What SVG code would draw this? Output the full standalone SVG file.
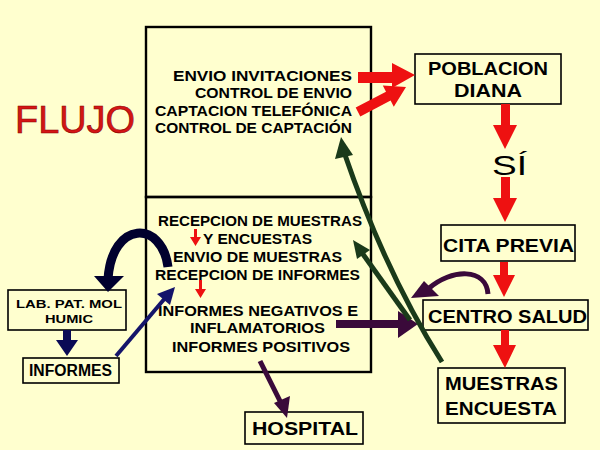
<svg xmlns="http://www.w3.org/2000/svg" width="600" height="450" viewBox="0 0 600 450">
<style>
.bx{fill:none;stroke:#000;stroke-width:1.6}
.big{fill:none;stroke:#000;stroke-width:2.4}
.t{font-family:"Liberation Sans",Arial,sans-serif;font-weight:bold;fill:#000}
.red{fill:#ee1111}
.navy{fill:#0a0a55}
.dnavy{fill:#00002e}
.pur{fill:#3a0a3a}
.grn{fill:#1a3a1a}
</style>
<rect width="600" height="450" fill="#ffffcf"/>
<text x="15" y="133" font-family="'Comic Sans MS','Liberation Sans',Arial,sans-serif" font-size="38" fill="#d41515" stroke="#8a0000" stroke-width="0.6" textLength="120" lengthAdjust="spacingAndGlyphs">FLUJO</text>

<g id="top-box">
<rect class="big" x="146" y="27" width="225" height="170"/>
<text class="t" font-size="15" text-anchor="end" x="352" y="81" textLength="179" lengthAdjust="spacingAndGlyphs">ENVIO INVITACIONES</text>
<text class="t" font-size="15" text-anchor="end" x="352" y="98" textLength="157" lengthAdjust="spacingAndGlyphs">CONTROL DE ENVIO</text>
<text class="t" font-size="15" text-anchor="end" x="352" y="116" textLength="197" lengthAdjust="spacingAndGlyphs">CAPTACION TELEFÓNICA</text>
<text class="t" font-size="15" text-anchor="end" x="352" y="133" textLength="197" lengthAdjust="spacingAndGlyphs">CONTROL DE CAPTACIÓN</text>
</g>

<g id="bottom-box">
<rect class="big" x="146" y="197" width="225" height="175"/>
<text class="t" font-size="14" x="158" y="226" textLength="204" lengthAdjust="spacingAndGlyphs">RECEPCION DE MUESTRAS</text>
<text class="t" font-size="14" x="203" y="244" textLength="109" lengthAdjust="spacingAndGlyphs">Y ENCUESTAS</text>
<text class="t" font-size="14" x="173" y="262" textLength="169" lengthAdjust="spacingAndGlyphs">ENVIO DE MUESTRAS</text>
<text class="t" font-size="14" x="155" y="280" textLength="205" lengthAdjust="spacingAndGlyphs">RECEPCION DE INFORMES</text>
<text class="t" font-size="14" x="158" y="316" textLength="200" lengthAdjust="spacingAndGlyphs">INFORMES NEGATIVOS E</text>
<text class="t" font-size="14" x="190" y="333" textLength="135" lengthAdjust="spacingAndGlyphs">INFLAMATORIOS</text>
<text class="t" font-size="14" x="172" y="352" textLength="178" lengthAdjust="spacingAndGlyphs">INFORMES POSITIVOS</text>
</g>

<g id="poblacion-diana">
<rect class="bx" x="415" y="54" width="146" height="50"/>
<text class="t" font-size="19" x="428" y="75" textLength="120" lengthAdjust="spacingAndGlyphs">POBLACION</text>
<text class="t" font-size="19" x="454" y="97" textLength="68" lengthAdjust="spacingAndGlyphs">DIANA</text>
</g>

<g id="si">
<text font-family="'Liberation Sans',Arial,sans-serif" font-size="28" x="492" y="175" textLength="35" lengthAdjust="spacingAndGlyphs">SÍ</text>
</g>

<g id="cita-previa">
<rect class="bx" x="441" y="225" width="134" height="36"/>
<text class="t" font-size="18" x="443" y="252" textLength="131" lengthAdjust="spacingAndGlyphs">CITA PREVIA</text>
</g>

<g id="centro-salud">
<rect class="bx" x="423" y="300" width="165" height="30"/>
<text class="t" font-size="18" x="428" y="323" textLength="159" lengthAdjust="spacingAndGlyphs">CENTRO SALUD</text>
</g>

<g id="muestras-encuesta">
<rect class="bx" x="438" y="368" width="127" height="55"/>
<text class="t" font-size="19" x="445" y="390" textLength="113" lengthAdjust="spacingAndGlyphs">MUESTRAS</text>
<text class="t" font-size="19" x="445" y="415" textLength="112" lengthAdjust="spacingAndGlyphs">ENCUESTA</text>
</g>

<g id="hospital">
<rect class="bx" x="245" y="412" width="118" height="32"/>
<text class="t" font-size="19" x="252" y="435" textLength="106" lengthAdjust="spacingAndGlyphs">HOSPITAL</text>
</g>

<g id="lab">
<rect class="bx" x="8" y="290" width="118" height="40"/>
<text class="t" font-size="11" x="16" y="308" textLength="106" lengthAdjust="spacingAndGlyphs">LAB. PAT. MOL</text>
<text class="t" font-size="11" x="45" y="323" textLength="48" lengthAdjust="spacingAndGlyphs">HUMIC</text>
</g>

<g id="informes">
<rect class="bx" x="23" y="358" width="96" height="25"/>
<text class="t" font-size="16" x="29" y="376" textLength="83" lengthAdjust="spacingAndGlyphs">INFORMES</text>
</g>

<g id="connectors">
<!-- red -->
<polygon class="red" points="358,72 392,72 392,63 415,75 392,88 392,83 358,83"/>
<polygon class="red" points="355.7,107.6 386,91.8 382.8,85.6 406,87 393.8,106.8 390.6,100.6 360.3,116.4"/>
<polygon class="red" points="501,104 510,104 510,125 517,125 505,149 493,125 501,125"/>
<polygon class="red" points="501,177 510,177 510,198 517,198 505,222 493,198 501,198"/>
<polygon class="red" points="500,262 508,262 508,275 515,275 504,297 493,275 500,275"/>
<polygon class="red" points="501,330 509,330 509,345 516,345 505,368 493,345 501,345"/>
<polygon class="red" points="194,229 197,229 197,237 201,237 195.5,246 190,237 194,237"/>
<polygon class="red" points="199,280 202,280 202,289 206,289 200.5,298 195,289 199,289"/>
<!-- navy -->
<path d="M168,267 C162,220 112,220 108,279" fill="none" stroke="#00002e" stroke-width="9"/>
<polygon class="dnavy" points="94,276 124,276 108,292"/>
<polygon class="navy" points="63,330 71,330 71,340 78,340 67,356 56,340 63,340"/>
<line x1="116" y1="356" x2="166" y2="297" stroke="#14146a" stroke-width="4"/>
<polygon fill="#14146a" points="175,287 170,305 157,294"/>
<!-- purple -->
<rect class="pur" x="336" y="320" width="64" height="8"/>
<polygon class="pur" points="398,311 418,324 398,338"/>
<line x1="260" y1="361" x2="281" y2="403" stroke="#3a0a3a" stroke-width="5"/>
<polygon class="pur" points="287,418 274,403 290,396"/>
<path d="M488,294 C486,268 452,268 428,289" fill="none" stroke="#3a0a3a" stroke-width="5"/>
<polygon class="pur" points="411,298 424,281 439,296"/>
<!-- green -->
<path d="M442,362 Q385,272 344,152" fill="none" stroke="#1a3a1a" stroke-width="5"/>
<polygon class="grn" points="341,137 353,155 335,159"/>
<line x1="410" y1="320" x2="360" y2="250" stroke="#1a3a1a" stroke-width="5"/>
<polygon class="grn" points="353,240 370,250 357,259"/>
</g>
</svg>
